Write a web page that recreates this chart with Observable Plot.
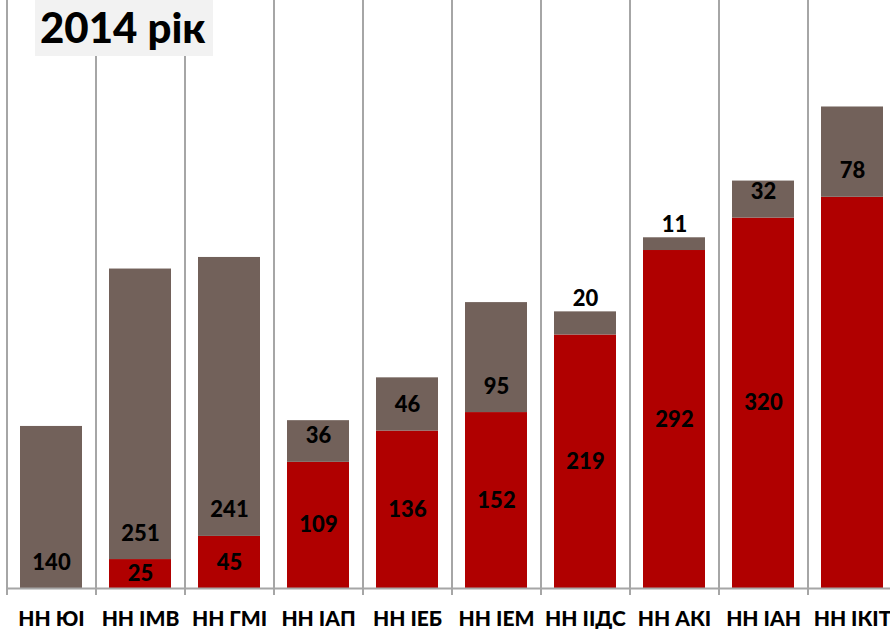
<!DOCTYPE html>
<html>
<head>
<meta charset="utf-8">
<script src="https://cdn.jsdelivr.net/npm/d3@7"></script>
<script src="https://cdn.jsdelivr.net/npm/@observablehq/plot@0.6"></script>
<style>
  html, body { margin: 0; padding: 0; background: #fff; overflow: hidden; }
  #wrap { position: relative; width: 890px; height: 629px; overflow: hidden; }
  #chart svg { max-width: none !important; }
  #title {
    position: absolute; left: 35px; top: 0; width: 178px; height: 56px;
    background: #F2F2F2; font-family: Lato, sans-serif; font-weight: 900;
    font-size: 42px; line-height: 55px; padding-left: 5px; box-sizing: border-box;
    color: #000; white-space: nowrap;
  }
</style>
</head>
<body>
<div id="wrap"><div id="chart"></div><div id="title">2014 рік</div></div>
<script>
const categories = ["НН ЮІ","НН ІМВ","НН ГМІ","НН ІАП","НН ІЕБ","НН ІЕМ","НН ІІДС","НН АКІ","НН ІАН","НН ІКІТ"];
const redValues = [0, 25, 45, 109, 136, 152, 219, 292, 320, 338];
const brownValues = [140, 251, 241, 36, 46, 95, 20, 11, 32, 78];
const hiddenRedLabels = ["НН ІКІТ"];
const seriesNames = ["lower", "upper"];
const smallSegment = 25; // upper labels that don't fit sit above the bar

const rows = [];
categories.forEach((c, i) => {
  rows.push({cat: c, series: seriesNames[0], value: redValues[i]});
  rows.push({cat: c, series: seriesNames[1], value: brownValues[i]});
});
const labelData = categories.map((c, i) => ({cat: c, red: redValues[i], brown: brownValues[i]}));

const gridColor = "#A6A6A6";
const labelStyle = {fontSize: 22, fontWeight: 900, fill: "#000"};
const chart = Plot.plot({
  width: 897,
  height: 629,
  marginLeft: 7,
  marginRight: 0,
  marginTop: 0,
  marginBottom: 41,
  style: {fontFamily: "Lato, sans-serif", background: "#fff", maxWidth: "none"},
  x: {domain: categories, paddingInner: 0.3, paddingOuter: 0.15, label: null},
  y: {domain: [0, 508], axis: null},
  color: {domain: seriesNames, range: ["#B00000", "#72615A"]},
  marks: [
    Plot.ruleX(categories, {x: d => d, dx: -44.5, stroke: gridColor, strokeWidth: 2, insetBottom: -7}),
    Plot.barY(rows, {x: "cat", y: "value", fill: "series"}),
    Plot.ruleY([0], {stroke: gridColor, strokeWidth: 2}),
    Plot.text(labelData.filter(d => d.red > 0 && !hiddenRedLabels.includes(d.cat)), {
      x: "cat", y: d => d.red / 2, text: d => String(d.red), ...labelStyle
    }),
    Plot.text(labelData.filter(d => d.brown >= smallSegment), {
      x: "cat", y: "red", dy: -26, text: d => String(d.brown), ...labelStyle
    }),
    Plot.text(labelData.filter(d => d.brown < smallSegment), {
      x: "cat", y: d => d.red + d.brown, dy: -13, text: d => String(d.brown), ...labelStyle
    }),
    Plot.axisX({tickSize: 0, tickPadding: 23, fontSize: 21, fontWeight: 900, label: null, fill: "#000"})
  ]
});
document.getElementById("chart").appendChild(chart);
</script>
</body>
</html>
